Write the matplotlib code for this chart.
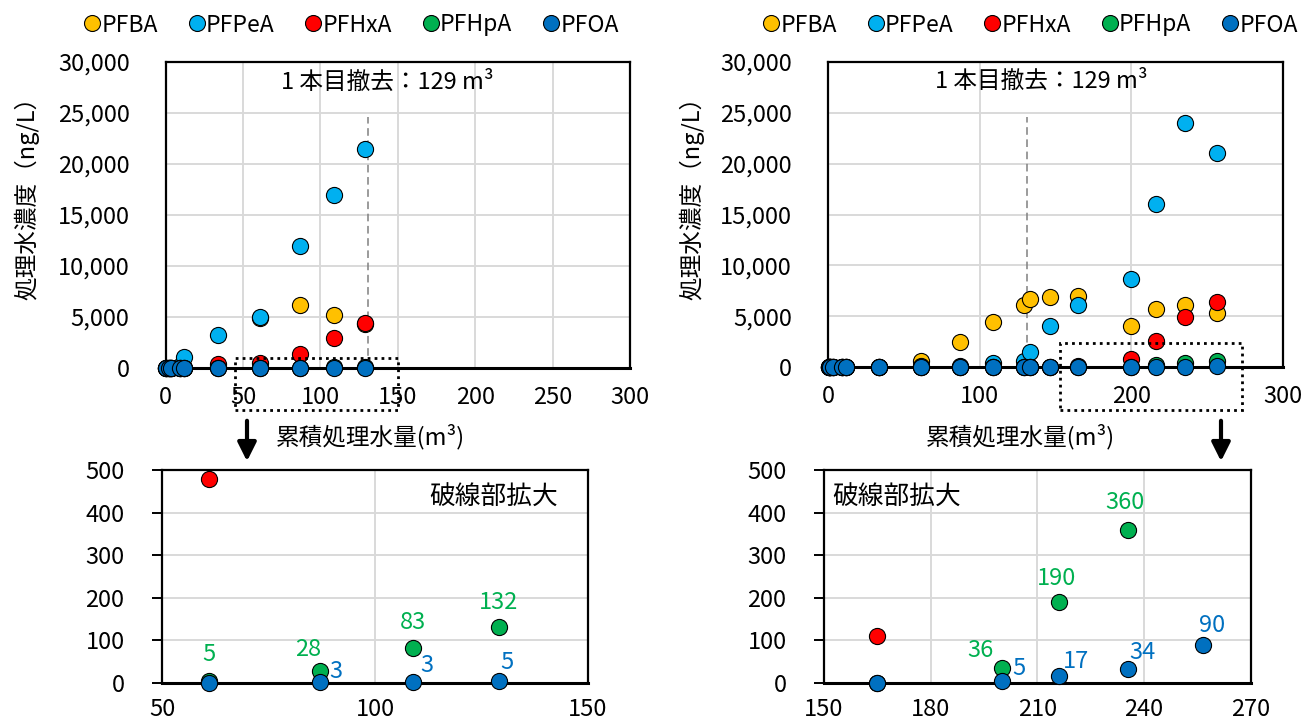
import matplotlib
matplotlib.use('Agg')
import matplotlib.pyplot as plt
import numpy as np
from matplotlib.lines import Line2D
from matplotlib.patches import Rectangle
from matplotlib.ticker import FuncFormatter, FixedLocator

plt.rcParams['font.family'] = ['Noto Sans CJK JP', 'DejaVu Sans']

# ---------------- data ----------------
series = ['PFBA', 'PFPeA', 'PFHxA', 'PFHpA', 'PFOA']
colors = ['#FFC000', '#00B0F0', '#FF0000', '#00B050', '#0070C0']

# left system (cumulative treated volume, m3)
x_left = [0.5, 2, 3.5, 9, 12, 33.5, 61, 87, 109, 129]
left_vals = {
    'PFBA':  [0, 0, 0, 0, 0, 100, 4900, 6200, 5200, 4300],
    'PFPeA': [0, 0, 0, 200, 1100, 3200, 5000, 12000, 17000, 21500],
    'PFHxA': [0, 0, 0, 0, 0, 400, 480, 1400, 2950, 4400],
    'PFHpA': [0, 0, 0, 0, 0, 0, 5, 28, 83, 132],
    'PFOA':  [0, 0, 0, 0, 0, 0, 1, 3, 3, 5],
}

# right system
x_right = [0.5, 1.5, 3.5, 9, 12, 33.5, 61, 87, 109, 129, 133, 146.5, 165, 200, 216, 235.5, 256.5]
right_vals = {
    'PFBA':  [0, 0, 0, 0, 0, 0, 550, 2500, 4400, 6100, 6700, 6850, 7000, 4000, 5700, 6100, 5300],
    'PFPeA': [0, 0, 0, 0, 0, 0, 50, 100, 350, 600, 1500, 4000, 6100, 8700, 16000, 24000, 21000],
    'PFHxA': [0, 0, 0, 0, 0, 0, 0, 0, 0, 0, 0, 0, 110, 800, 2600, 4900, 6400],
    'PFHpA': [0, 0, 0, 0, 0, 0, 0, 0, 0, 0, 0, 0, 0, 36, 190, 360, 600],
    'PFOA':  [0, 0, 0, 0, 0, 0, 0, 0, 0, 0, 0, 0, 0, 5, 17, 34, 90],
}

removal_x = 131          # first column removal (label says 129 m3)
removal_label = '1 本目撤去：129 m³'

# labelled points in the enlarged panels: (series, index into x array)
left_labels = [('PFHpA', 6), ('PFHpA', 7), ('PFHpA', 8), ('PFHpA', 9),
               ('PFOA', 7), ('PFOA', 8), ('PFOA', 9)]
right_labels = [('PFHpA', 13), ('PFHpA', 14), ('PFHpA', 15),
                ('PFOA', 13), ('PFOA', 14), ('PFOA', 15), ('PFOA', 16)]

# ---------------- layout ----------------
W, H = 1315, 725
fig = plt.figure(figsize=(W / 100, H / 100), dpi=100)


def px_axes(l, t, r, b):
    return fig.add_axes([l / W, 1 - b / H, (r - l) / W, (b - t) / H])


ax_tl = px_axes(165.7, 62, 630, 368)
ax_tr = px_axes(828, 62, 1283, 367)
ax_bl = px_axes(162, 470, 588, 683)
ax_br = px_axes(824, 470, 1250.7, 683)

# label offsets in pixels (dx, dy) for the enlarged panels
left_offsets = [(0, 26), (-11, 22), (0, 25), (0, 24), (16, 10), (14, 16), (8, 18)]
right_offsets = [(-21, 17), (-2, 24), (-3, 27), (17, 12), (17, 14), (14, 16), (9, 19)]

MS = 135
FS = 17
GRID = '#D9D9D9'


def style(ax, xlim, ylim, xticks, yticks, top):
    ax.set_xlim(*xlim)
    ax.set_ylim(*ylim)
    ax.xaxis.set_major_locator(FixedLocator(xticks))
    ax.yaxis.set_major_locator(FixedLocator(yticks))
    ax.grid(True, color=GRID, lw=1.4)
    ax.set_axisbelow(True)
    for s in ax.spines.values():
        s.set_color('black')
        s.set_linewidth(1.6)
    ax.spines['bottom'].set_linewidth(2.2)
    if top:
        ax.tick_params(axis='y', length=0, pad=26, labelsize=FS)
        ax.tick_params(axis='x', length=0, pad=13, labelsize=FS)
        ax.yaxis.set_major_formatter(FuncFormatter(lambda v, p: f'{int(v):,}'))
    else:
        ax.tick_params(axis='y', length=7, width=1.4, pad=20, labelsize=FS, direction='out')
        ax.tick_params(axis='x', length=0, pad=11, labelsize=FS)


def draw_top(ax, xs, vals):
    xs = np.asarray(xs)
    for name, col in zip(series, colors):
        ax.scatter(xs, vals[name], s=MS, c=col, edgecolors='black', linewidths=0.8,
                   zorder=3, clip_on=False)
    ax.vlines(removal_x, 0, 24600, colors='#808080', linestyles=(0, (5, 3)), lw=1.1, zorder=2)


def draw_zoom(ax, xs, vals, labels, offsets):
    xs = np.asarray(xs)
    x0, x1 = ax.get_xlim()
    y0, y1 = ax.get_ylim()
    for name, col in zip(series, colors):
        ys = np.asarray(vals[name], dtype=float)
        m = (xs >= x0) & (xs <= x1) & (ys <= y1)
        ax.scatter(xs[m], ys[m], s=MS, c=col, edgecolors='black', linewidths=0.8,
                   zorder=3, clip_on=False)
    for (name, i), (dx, dy) in zip(labels, offsets):
        v = vals[name][i]
        col = colors[series.index(name)]
        ax.annotate(f'{v:g}', xy=(xs[i], v), xytext=(dx * 0.72, dy * 0.72),
                    textcoords='offset points', ha='center', va='center',
                    color=col, fontsize=FS, zorder=4)


style(ax_tl, (0, 300), (0, 30000), range(0, 301, 50), range(0, 30001, 5000), True)
style(ax_tr, (0, 300), (0, 30000), range(0, 301, 100), range(0, 30001, 5000), True)
style(ax_bl, (50, 150), (0, 500), [50, 100, 150], range(0, 501, 100), False)
style(ax_br, (150, 270), (0, 500), range(150, 271, 30), range(0, 501, 100), False)

draw_top(ax_tl, x_left, left_vals)
draw_top(ax_tr, x_right, right_vals)
draw_zoom(ax_bl, x_left, left_vals, left_labels, left_offsets)
draw_zoom(ax_br, x_right, right_vals, right_labels, right_offsets)

# removal annotation
for ax, xf in ((ax_tl, 0.477), (ax_tr, 0.469)):
    ax.text(xf, 0.935, removal_label, transform=ax.transAxes, ha='center', va='center',
            fontsize=FS)

# enlarged-area labels
ax_bl.text(0.93, 0.87, '破線部拡大', transform=ax_bl.transAxes, ha='right', va='center', fontsize=18.5)
ax_br.text(0.02, 0.87, '破線部拡大', transform=ax_br.transAxes, ha='left', va='center', fontsize=18.5)

# dotted rectangles marking the enlarged areas (data coords, extending below axis)
for ax, (xa, xb), (ya, yb) in ((ax_tl, (45, 150), (-4100, 950)),
                               (ax_tr, (153, 272.7), (-4200, 2330))):
    r = Rectangle((xa, ya), xb - xa, yb - ya, fill=False, ec='black', lw=2,
                  ls=(0, (1, 1.5)), clip_on=False, zorder=5)
    ax.add_patch(r)

# axis labels
for cx in (370, 1020):
    fig.text(cx / W, 1 - 437 / H, '累積処理水量(m³)', ha='center', va='center', fontsize=FS)
for cx in (27, 692):
    fig.text(cx / W, 1 - 192 / H, '処理水濃度（ng/L）', ha='center', va='center',
             rotation=90, fontsize=FS)

# arrows
for ax_x in (247, 1221):
    fig.add_artist(matplotlib.patches.FancyArrowPatch(
        (ax_x / W, 1 - 418 / H), (ax_x / W, 1 - 464 / H), transform=fig.transFigure,
        arrowstyle='-|>', mutation_scale=28, lw=3, color='black'))

# legends
handles = [Line2D([], [], ls='', marker='o', markersize=11.5, mfc=c, mec='black', mew=0.8)
           for c in colors]
for ax, cx in ((ax_tl, 352), (ax_tr, 1031)):
    ax.legend(handles, series, ncol=5, loc='center', bbox_to_anchor=(cx / W, 1 - 25 / H),
              bbox_transform=fig.transFigure, frameon=False, fontsize=16.5,
              handlelength=0.6, handletextpad=0.1, columnspacing=1.4, borderpad=0,
              borderaxespad=0)

fig.savefig('out.png', dpi=100)
